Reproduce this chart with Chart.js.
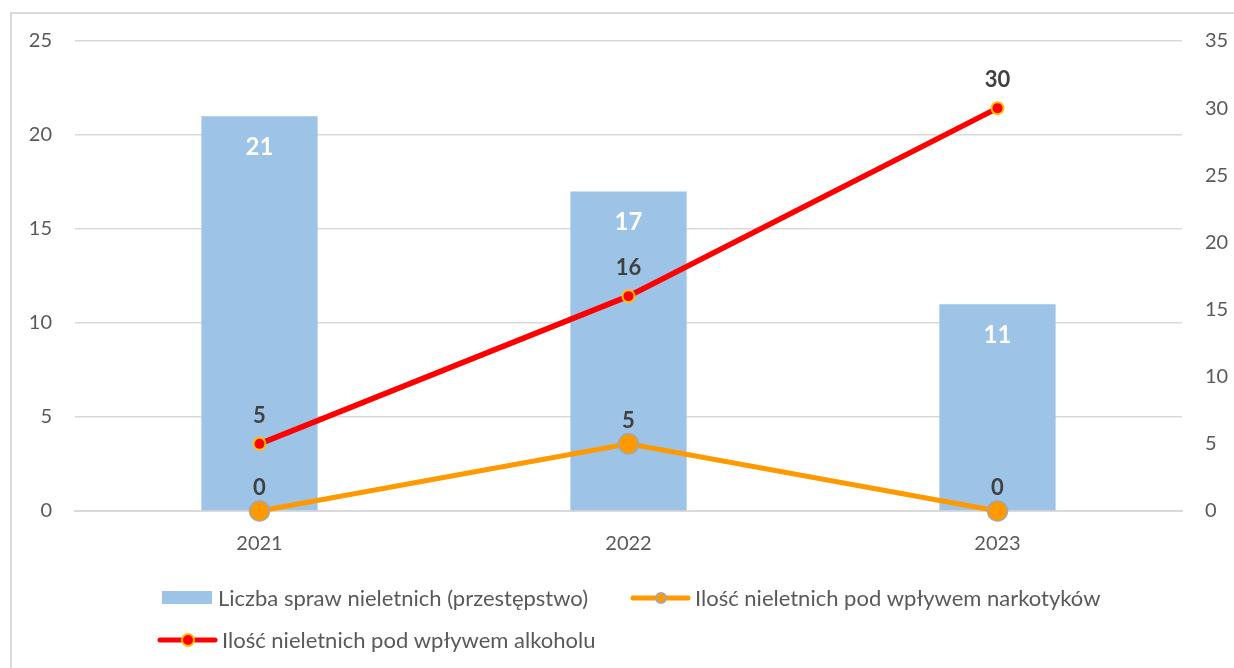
<!DOCTYPE html>
<html lang="pl">
<head>
<meta charset="UTF-8">
<title>Nieletni 2021-2023</title>
<script src="https://cdn.jsdelivr.net/npm/chart.js"></script>
<style>
    html, body { margin: 0; padding: 0; background: #fff; }
    #wrap { width: 1234px; height: 668px; position: relative; }
</style>
</head>
<body>
<div id="wrap"><canvas id="chart"></canvas></div>
<script>
const years = ['2021', '2022', '2023'];
const sprawy = [21, 17, 11];
const narkotyki = [0, 5, 0];
const alkohol = [5, 16, 30];

const labelSprawy = 'Liczba spraw nieletnich (przestępstwo)';
const labelNarkotyki = 'Ilość nieletnich pod wpływem narkotyków';
const labelAlkohol = 'Ilość nieletnich pod wpływem alkoholu';

const FONT = 'Lato, "Noto Sans", sans-serif';
const GRID = '#d9d9d9';
const TEXT = '#595959';

// value labels on bars and points
const valueLabels = {
    id: 'valueLabels',
    afterDatasetsDraw(chart) {
        const ctx = chart.ctx;
        ctx.save();
        ctx.textAlign = 'center';
        ctx.textBaseline = 'middle';
        chart.data.datasets.forEach((ds, i) => {
            const meta = chart.getDatasetMeta(i);
            meta.data.forEach((el, j) => {
                const v = ds.data[j];
                if (ds.type === 'bar') {
                    ctx.fillStyle = '#ffffff';
                    ctx.font = 'bold 24px ' + FONT;
                    ctx.fillText(v, el.x, el.y + 31);
                } else {
                    ctx.fillStyle = '#404040';
                    ctx.font = 'bold 22px ' + FONT;
                    ctx.fillText(v, el.x, el.y - (ds.labelOffset || 26));
                }
            });
        });
        ctx.restore();
    }
};

// outer frame
const frame = {
    id: 'frame',
    beforeDraw(chart) {
        const ctx = chart.ctx;
        ctx.save();
        ctx.strokeStyle = GRID;
        ctx.lineWidth = 2;
        ctx.strokeRect(11, 13, 1400, 800);
        ctx.restore();
    }
};

// legend laid out like the original (two rows, left aligned)
const customLegend = {
    id: 'customLegend',
    afterDraw(chart) {
        const ctx = chart.ctx;
        const ds = chart.data.datasets;
        ctx.save();
        ctx.font = '22px ' + FONT;
        ctx.fillStyle = TEXT;
        ctx.textBaseline = 'middle';
        ctx.textAlign = 'left';

        const rows = [
            { y: 598, items: [{ d: ds[0], x: 162 }, { d: ds[1], x: 633 }] },
            { y: 640, items: [{ d: ds[2], x: 160 }] }
        ];
        rows.forEach(r => {
            r.items.forEach(it => {
                const d = it.d;
                if (d.type === 'bar') {
                    ctx.fillStyle = d.backgroundColor;
                    ctx.fillRect(it.x, r.y - 7, 50, 13);
                } else {
                    ctx.strokeStyle = d.borderColor;
                    ctx.lineWidth = 5;
                    ctx.lineCap = 'round';
                    ctx.beginPath();
                    ctx.moveTo(it.x, r.y);
                    ctx.lineTo(it.x + 55, r.y);
                    ctx.stroke();
                    ctx.beginPath();
                    ctx.arc(it.x + 28, r.y, d.legendRadius, 0, Math.PI * 2);
                    ctx.fillStyle = d.pointBackgroundColor;
                    ctx.fill();
                    ctx.lineWidth = 2;
                    ctx.strokeStyle = d.pointBorderColor;
                    ctx.stroke();
                }
                ctx.fillStyle = TEXT;
                ctx.fillText(d.label, it.x + (d.type === 'bar' ? 56 : 62), r.y + 1);
            });
        });
        ctx.restore();
    }
};

new Chart(document.getElementById('chart'), {
    data: {
        labels: years,
        datasets: [
            {
                type: 'bar',
                label: labelSprawy,
                data: sprawy,
                backgroundColor: '#9dc3e6',
                yAxisID: 'y',
                barPercentage: 0.315,
                categoryPercentage: 1,
                order: 2
            },
            {
                type: 'line',
                label: labelNarkotyki,
                data: narkotyki,
                borderColor: '#ff9900',
                borderWidth: 5,
                pointRadius: 10,
                pointBackgroundColor: '#ff9900',
                pointBorderColor: '#a6a6a6',
                pointBorderWidth: 1.5,
                legendRadius: 5,
                labelOffset: 23,
                tension: 0,
                clip: false,
                yAxisID: 'y1',
                order: 1
            },
            {
                type: 'line',
                label: labelAlkohol,
                data: alkohol,
                borderColor: '#ff0000',
                borderWidth: 5.5,
                pointRadius: 6,
                pointBackgroundColor: '#ff0000',
                pointBorderColor: '#ffc000',
                pointBorderWidth: 2,
                legendRadius: 6,
                labelOffset: 28,
                tension: 0,
                clip: false,
                yAxisID: 'y1',
                order: 0
            }
        ]
    },
    options: {
        responsive: true,
        maintainAspectRatio: false,
        animation: false,
        layout: { padding: { top: 41, left: 0, right: 0, bottom: 0 } },
        plugins: {
            legend: { display: false },
            tooltip: { enabled: false }
        },
        scales: {
            x: {
                grid: { display: false, drawTicks: false },
                border: { display: true, color: GRID, width: 2 },
                ticks: { color: TEXT, font: { size: 20, family: FONT }, padding: 21 },
                afterFit(s) { s.height = 157; }
            },
            y: {
                position: 'left',
                min: 0, max: 25,
                grid: { color: GRID, lineWidth: 1.5, drawTicks: false },
                border: { display: false },
                ticks: { stepSize: 5, color: TEXT, font: { size: 20, family: FONT }, padding: 23 },
                afterFit(s) { s.width = 75; }
            },
            y1: {
                position: 'right',
                min: 0, max: 35,
                grid: { display: false, drawTicks: false },
                border: { display: false },
                ticks: { stepSize: 5, color: TEXT, font: { size: 20, family: FONT }, padding: 23 },
                afterFit(s) { s.width = 52; }
            }
        }
    },
    plugins: [frame, valueLabels, customLegend]
});
</script>
</body>
</html>
